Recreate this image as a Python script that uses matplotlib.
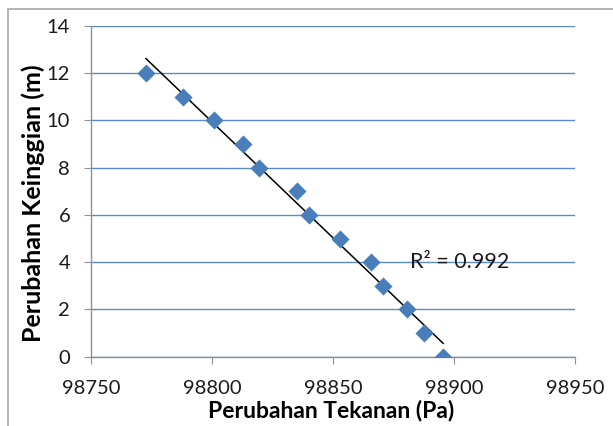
import numpy as np
import matplotlib.pyplot as plt
from matplotlib.patches import Rectangle

# data
tekanan = [98772.7, 98788.0, 98800.8, 98812.8, 98819.4, 98835.0, 98840.0,
           98853.0, 98865.7, 98870.7, 98880.6, 98887.6, 98895.5]
ketinggian = [12, 11, 10, 9, 8, 7, 6, 5, 4, 3, 2, 1, 0]
r2_label = "R² = 0.992"

plt.rcParams['font.family'] = ['Lato', 'DejaVu Sans']

fig = plt.figure(figsize=(6.13, 4.26), dpi=100)
ax = fig.add_axes([0.1485, 0.1627, 0.7895, 0.7763])

# chart area border (Excel style)
fig.patches.append(Rectangle((8 / 613, -0.1), 1.2, 1 - 9 / 426 + 0.1,
                             transform=fig.transFigure, fill=False,
                             edgecolor='#a6a6a6', linewidth=1.2))

x = np.array(tekanan)
y = np.array(ketinggian)

# linear trendline over data range
m, b = np.polyfit(x, y, 1)
xs = np.array([x.min(), x.max()])
ax.plot(xs, m * xs + b, color='black', linewidth=1.1, zorder=3)

ax.scatter(x, y, marker='D', s=85, color='#4a7ebb', zorder=4, linewidths=0)

ax.set_xlim(98750, 98950)
ax.set_ylim(0, 14)
ax.set_xticks(np.arange(98750, 98951, 50))
ax.set_yticks(np.arange(0, 15, 2))

ax.grid(axis='y', color='#5b8ac6', linewidth=1.0)
ax.set_axisbelow(True)

for s in ['top', 'right']:
    ax.spines[s].set_visible(False)
for s in ['left', 'bottom']:
    ax.spines[s].set_color('#909090')
    ax.spines[s].set_linewidth(1.0)

ax.tick_params(axis='both', colors='#909090', labelcolor='#1a1a1a',
               labelsize=14.5, length=5, direction='out')
ax.tick_params(axis='y', pad=10)
ax.tick_params(axis='x', pad=12)

fig.text(331.5 / 613, 1 - 417 / 426, "Perubahan Tekanan (Pa)", fontsize=16.5,
         fontweight='bold', ha='center', va='baseline')
fig.text(33 / 613, 1 - 203 / 426, "Perubahan Keinggian (m)", fontsize=18,
         fontweight='bold', ha='center', va='center', rotation=90)

ax.text(98881.8, 3.75, r2_label, fontsize=15.5, ha='left', va='baseline',
        color='#1a1a1a')

fig.savefig("out.png", dpi=100)
